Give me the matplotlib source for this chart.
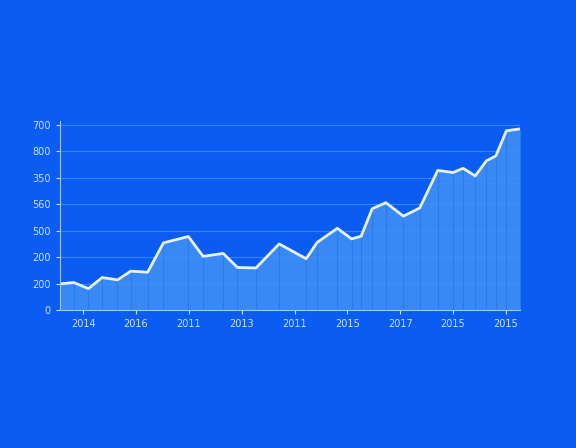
import matplotlib
matplotlib.use("Agg")
import matplotlib.pyplot as plt

x_pos = [-0.43, -0.18, 0.10, 0.36, 0.65, 0.90, 1.22, 1.52, 1.99, 2.27, 2.65, 2.92, 3.27, 3.71, 4.22, 4.43, 4.81, 5.08, 5.26, 5.47, 5.73, 6.06, 6.37, 6.71, 7.00, 7.19, 7.42, 7.63, 7.81, 8.01, 8.27]
values = [99, 104, 81, 123, 114, 147, 143, 254, 278, 203, 214, 161, 159, 250, 194, 256, 309, 269, 279, 383, 406, 355, 386, 528, 520, 536, 507, 564, 583, 678, 685]
x_labels = ["2014", "2016", "2011", "2013", "2011", "2015", "2017", "2015", "2015"]
y_ticks = [0, 100, 200, 300, 400, 500, 600, 700]
y_labels = ["0", "200", "200", "500", "560", "350", "800", "700"]

bg = "#0b5cf3"
fig = plt.figure(figsize=(5.76, 4.48), dpi=100, facecolor=bg)
ax = fig.add_axes([0.104, 0.308, 0.799, 0.422], facecolor=bg)
ax.fill_between(x_pos, values, 0, color="#3f8ff6", alpha=0.9, lw=0)
ax.vlines(x_pos, 0, values, color="#2e78e8", lw=0.8)
ax.plot(x_pos, values, color="#e8f2ff", lw=2)
for y in y_ticks[1:]:
    ax.axhline(y, color="#3b82f6", lw=0.8, zorder=0)
ax.set_xlim(-0.44, 8.27)
ax.set_ylim(0, 715)
ax.set_xticks(range(len(x_labels)))
ax.set_xticklabels(x_labels)
ax.set_yticks(y_ticks)
ax.set_yticklabels(y_labels)
ax.tick_params(colors="#cfe2ff", labelsize=7, length=3, width=0.8)
for s in ["top", "right"]:
    ax.spines[s].set_visible(False)
for s in ["left", "bottom"]:
    ax.spines[s].set_color("#9cc4ff")
fig.savefig("out.png", dpi=100, facecolor=bg)
